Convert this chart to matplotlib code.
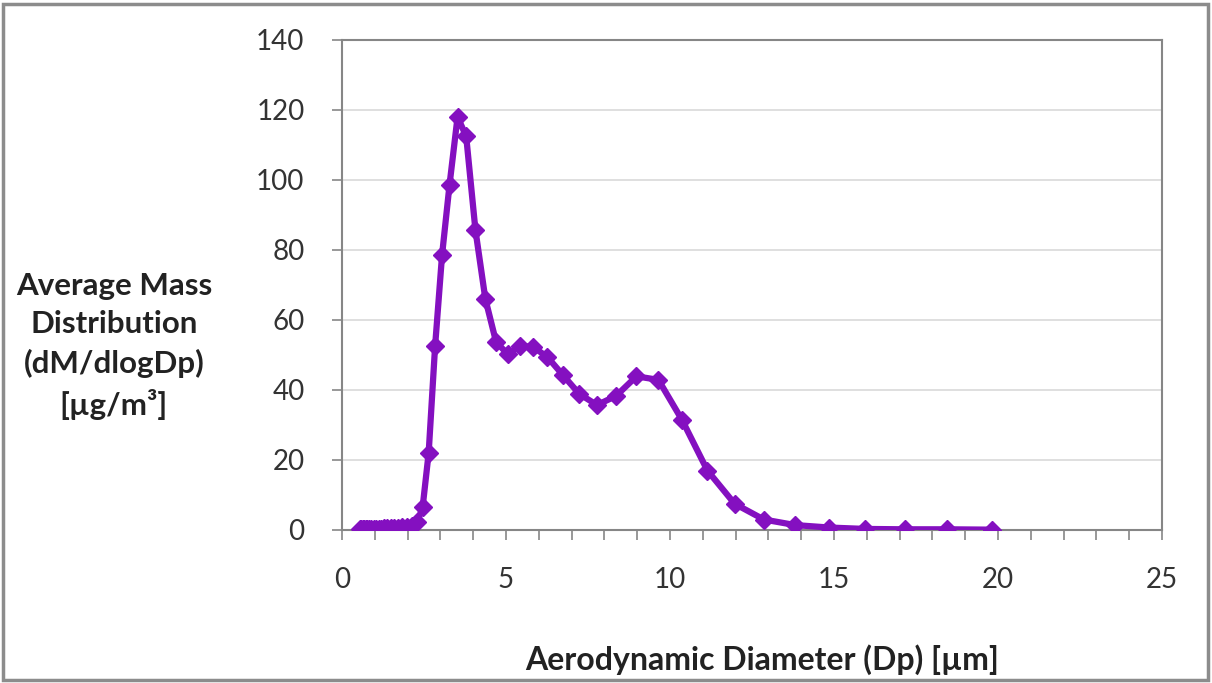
import numpy as np
import matplotlib.pyplot as plt
from matplotlib.patches import Rectangle
from matplotlib.ticker import MultipleLocator

plt.rcParams['font.family'] = ['Lato', 'DejaVu Sans']

# aerodynamic diameter (um) and dM/dlogDp (ug/m3)
dp = [0.542, 0.583, 0.626, 0.673, 0.723, 0.777, 0.835, 0.898, 0.965, 1.037,
      1.114, 1.197, 1.286, 1.382, 1.486, 1.596, 1.715, 1.843, 1.981, 2.129,
      2.288, 2.458, 2.642, 2.839, 3.051, 3.278, 3.523, 3.786, 4.068, 4.371,
      4.698, 5.048, 5.425, 5.829, 6.264, 6.732, 7.234, 7.774, 8.354, 8.977,
      9.647, 10.37, 11.14, 11.97, 12.86, 13.82, 14.86, 15.96, 17.15, 18.43,
      19.81]
mass = [0.2, 0.2, 0.2, 0.2, 0.2, 0.2, 0.2, 0.3, 0.3, 0.3,
        0.4, 0.4, 0.5, 0.5, 0.6, 0.6, 0.7, 0.8, 0.9, 1.2,
        2.2, 6.5, 22.0, 52.6, 78.6, 98.6, 118.0, 112.5, 85.7, 66.0,
        53.7, 50.3, 52.6, 52.3, 49.4, 44.3, 38.9, 35.7, 38.3, 43.9,
        42.9, 31.4, 17.0, 7.5, 3.0, 1.4, 0.7, 0.3, 0.2, 0.2,
        0.1]

W, H = 1212, 683
fig = plt.figure(figsize=(W / 100, H / 100), dpi=100)
fig.patches.append(Rectangle((3 / W, 3 / H), 1 - 7 / W, 1 - 7 / H, transform=fig.transFigure,
                             fill=False, edgecolor='#8c8c8c', linewidth=2.5))

ax = fig.add_axes([342 / W, (H - 530) / H, 820 / W, 490 / H])
ax.plot(dp, mass, color='#8410c0', linewidth=4.5, marker='D', markersize=9.5,
        markeredgecolor='#8410c0', zorder=3)

ax.set_xlim(0, 25)
ax.set_ylim(0, 140)
ax.xaxis.set_major_locator(MultipleLocator(5))
ax.xaxis.set_minor_locator(MultipleLocator(1))
ax.yaxis.set_major_locator(MultipleLocator(20))
ax.grid(axis='y', color='#d9d9d9', linewidth=1.2)
ax.set_axisbelow(True)

for s in ax.spines.values():
    s.set_color('#868686')
    s.set_linewidth(1.5)

ax.tick_params(axis='both', which='both', direction='out', color='#868686', width=1.2)
ax.tick_params(axis='x', which='major', length=7, pad=20, labelsize=20, labelcolor='#333333')
ax.tick_params(axis='x', which='minor', length=7)
ax.tick_params(axis='y', which='major', length=7, pad=20, labelsize=20, labelcolor='#333333')

fig.text(114 / W, 1 - 346 / H, 'Average Mass\nDistribution\n(dM/dlogDp)\n[µg/m³]',
         ha='center', va='center', fontsize=22.5, fontweight='bold', color='#222222',
         linespacing=1.45)
fig.text(762 / W, 1 - 660 / H, 'Aerodynamic Diameter (Dp) [µm]',
         ha='center', va='center', fontsize=23, fontweight='bold', color='#222222')

fig.savefig('out.png', dpi=100)
